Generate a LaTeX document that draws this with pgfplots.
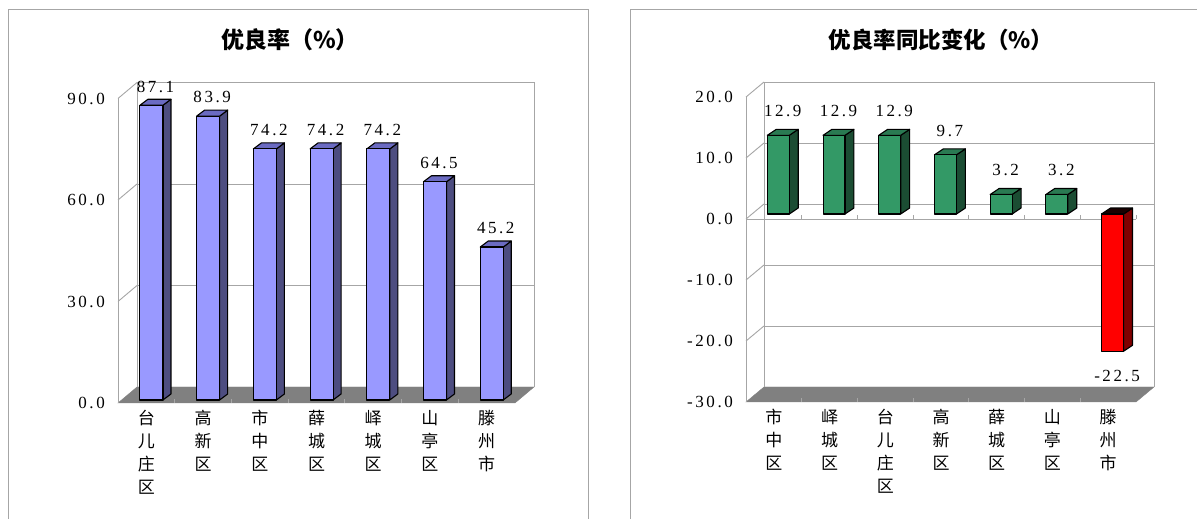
\documentclass[border=0pt]{standalone}
\usepackage{fontspec}
\usepackage{pgfplots}
\pgfplotsset{compat=1.18}
\newfontfamily\cjk{Noto Sans CJK SC}
\newfontfamily\numfont[LetterSpace=15]{Liberation Serif}
\definecolor{wallgray}{HTML}{A6A6A6}
\definecolor{floorgray}{HTML}{808080}
\definecolor{blfront}{HTML}{9999FF}
\definecolor{blside}{HTML}{4D4D80}
\definecolor{bltop}{HTML}{6B6BC2}
\definecolor{grfront}{HTML}{339966}
\definecolor{grside}{HTML}{1B4D33}
\definecolor{grtop}{HTML}{2A7A52}
\definecolor{rdfront}{HTML}{FF0000}
\definecolor{rdside}{HTML}{800000}
\definecolor{rdtop}{HTML}{1A0000}

% one 3-d bar: x, value, front, side, top colour
\newcommand\tdbar[5]{%
  \pgfmathsetmacro\xa{#1+\sx-\bw}%
  \pgfmathsetmacro\xb{#1+\sx+\bw}%
  \pgfmathsetmacro\xc{\xb+\ddx}%
  \pgfmathsetmacro\xd{\xa+\ddx}%
  \pgfmathsetmacro\ya{min(0,#2)+\sy}%
  \pgfmathsetmacro\yb{max(0,#2)+\sy}%
  \pgfmathsetmacro\yc{\ya+\ddy}%
  \pgfmathsetmacro\yd{\yb+\ddy}%
  \pgfmathsetmacro\xl{#1+\sx+0.5*\ddx}%
  \pgfmathsetmacro\yl{#2<0 ? #2+\sy-\lgapn : #2+\sy+\ddy+\lgap}%
  \edef\temp{%
    \noexpand\addplot[fill=#4, draw=black, line width=1.1pt, line join=round]
      coordinates {(\xb,\ya) (\xc,\yc) (\xc,\yd) (\xb,\yb)} -- cycle;
    \noexpand\addplot[fill=#5, draw=black, line width=1.1pt, line join=round]
      coordinates {(\xa,\yb) (\xb,\yb) (\xc,\yd) (\xd,\yd)} -- cycle;
    \noexpand\addplot[fill=#3, draw=black, line width=1.1pt, line join=round]
      coordinates {(\xa,\ya) (\xb,\ya) (\xb,\yb) (\xa,\yb)} -- cycle;
    \noexpand\addplot[draw=none, mark=none, nodes near coords,
      point meta=explicit symbolic] coordinates {(\xl,\yl) [#2]};
  }\temp}
\newcommand\seg[4]{\addplot[wallgray, line width=0.9pt] coordinates {(#1,#2) (#3,#4)};}

\pgfplotsset{
  tdaxis/.style={
    scale only axis, clip=false, anchor=south west,
    axis line style={draw=none}, major tick length=0pt,
    xmin=0.5, xmax=7.5, xtick={1,...,7},
    xticklabel style={font=\cjk\fontsize{17pt}{23pt}\selectfont, align=center,
      anchor=north, inner sep=0pt, yshift=-7pt},
    yticklabel style={font=\numfont\fontsize{17pt}{20pt}\selectfont,
      anchor=east, inner sep=0pt, xshift=-13pt},
    every node near coord/.append style={font=\numfont\fontsize{17pt}{20pt}\selectfont,
      inner sep=0pt, black},
  },
}

\begin{document}
\begin{tikzpicture}
\useasboundingbox (0pt,0pt) rectangle (1197pt,519pt);
\draw[wallgray, line width=1pt] (8.5pt,-5pt) rectangle (588.5pt,509pt);
\draw[wallgray, line width=1pt] (630.5pt,-5pt) rectangle (1210pt,509pt);
\node[font=\cjk\bfseries\fontsize{23pt}{26pt}\selectfont] at (290pt,479pt) {优良率（\%）};
\node[font=\cjk\bfseries\fontsize{22.5pt}{26pt}\selectfont] at (941pt,479pt) {优良率同比变化（\%）};

% ---------------- left: rate ----------------
\def\bw{0.203}\def\sx{0.09}\def\sy{0.9}\def\ddx{0.141}\def\ddy{1.77}
\def\lgap{2.0}\def\lgapn{2.8}
\begin{axis}[tdaxis,
  at={(118pt,116pt)}, width=397pt, height=304.5pt,
  ymin=0, ymax=90, ytick={0,30,60,90},
  yticklabels={0.0,30.0,60.0,90.0},
  xticklabels={{台\\儿\\庄\\区},{高\\新\\区},{市\\中\\区},{薛\\城\\区},{峄\\城\\区},{山\\亭\\区},{滕\\州\\市}},
]
  \addplot[fill=floorgray, draw=floorgray] coordinates {(0.5,0) (7.5,0) (7.835,4.73) (0.835,4.73)} -- cycle;
  \seg{0.5}{0}{0.5}{90}
  \seg{0.835}{4.73}{0.835}{94.73}
  \seg{7.835}{4.73}{7.835}{94.73}
  \seg{0.835}{94.73}{7.835}{94.73}
  \seg{0.835}{34.73}{7.835}{34.73}
  \seg{0.835}{64.73}{7.835}{64.73}
  \seg{0.5}{30}{0.835}{34.73}
  \seg{0.5}{60}{0.835}{64.73}
  \seg{0.5}{90}{0.835}{94.73}
  \seg{1.5}{0}{1.5}{1.2}\seg{2.5}{0}{2.5}{1.2}\seg{3.5}{0}{3.5}{1.2}
  \seg{4.5}{0}{4.5}{1.2}\seg{5.5}{0}{5.5}{1.2}\seg{6.5}{0}{6.5}{1.2}
  \tdbar{1}{87.1}{blfront}{blside}{bltop}
  \tdbar{2}{83.9}{blfront}{blside}{bltop}
  \tdbar{3}{74.2}{blfront}{blside}{bltop}
  \tdbar{4}{74.2}{blfront}{blside}{bltop}
  \tdbar{5}{74.2}{blfront}{blside}{bltop}
  \tdbar{6}{64.5}{blfront}{blside}{bltop}
  \tdbar{7}{45.2}{blfront}{blside}{bltop}
\end{axis}

% ---------------- right: change ----------------
\def\bw{0.197}\def\sx{0.08}\def\sy{0.82}\def\ddx{0.16}\def\ddy{0.98}
\def\lgap{2.0}\def\lgapn{5.0}
\begin{axis}[tdaxis,
  at={(746pt,117pt)}, width=390pt, height=305pt,
  ymin=-30, ymax=20, ytick={-30,-20,-10,0,10,20},
  yticklabels={-30.0,-20.0,-10.0,0.0,10.0,20.0},
  xticklabels={{市\\中\\区},{峄\\城\\区},{台\\儿\\庄\\区},{高\\新\\区},{薛\\城\\区},{山\\亭\\区},{滕\\州\\市}},
]
  \addplot[fill=floorgray, draw=floorgray] coordinates {(0.5,-30) (7.5,-30) (7.823,-27.54) (0.823,-27.54)} -- cycle;
  \seg{0.5}{-30}{0.5}{20}
  \seg{0.823}{-27.54}{0.823}{22.46}
  \seg{7.823}{-27.54}{7.823}{22.46}
  \seg{0.823}{22.46}{7.823}{22.46}
  \seg{0.823}{12.46}{7.823}{12.46}
  \seg{0.823}{2.46}{7.823}{2.46}
  \seg{0.823}{-7.54}{7.823}{-7.54}
  \seg{0.823}{-17.54}{7.823}{-17.54}
  \seg{0.5}{-20}{0.823}{-17.54}
  \seg{0.5}{-10}{0.823}{-7.54}
  \seg{0.5}{0}{0.823}{2.46}
  \seg{0.5}{10}{0.823}{12.46}
  \seg{0.5}{20}{0.823}{22.46}
  \seg{0.5}{0}{7.5}{0}
  \seg{1.5}{0}{1.5}{0.7}\seg{2.5}{0}{2.5}{0.7}\seg{3.5}{0}{3.5}{0.7}
  \seg{4.5}{0}{4.5}{0.7}\seg{5.5}{0}{5.5}{0.7}\seg{6.5}{0}{6.5}{0.7}\seg{7.5}{0}{7.5}{0.7}
  \seg{1.5}{-30}{1.5}{-29.3}\seg{2.5}{-30}{2.5}{-29.3}\seg{3.5}{-30}{3.5}{-29.3}
  \seg{4.5}{-30}{4.5}{-29.3}\seg{5.5}{-30}{5.5}{-29.3}\seg{6.5}{-30}{6.5}{-29.3}
  \tdbar{1}{12.9}{grfront}{grside}{grtop}
  \tdbar{2}{12.9}{grfront}{grside}{grtop}
  \tdbar{3}{12.9}{grfront}{grside}{grtop}
  \tdbar{4}{9.7}{grfront}{grside}{grtop}
  \tdbar{5}{3.2}{grfront}{grside}{grtop}
  \tdbar{6}{3.2}{grfront}{grside}{grtop}
  \tdbar{7}{-22.5}{rdfront}{rdside}{rdtop}
\end{axis}
\end{tikzpicture}
\end{document}
